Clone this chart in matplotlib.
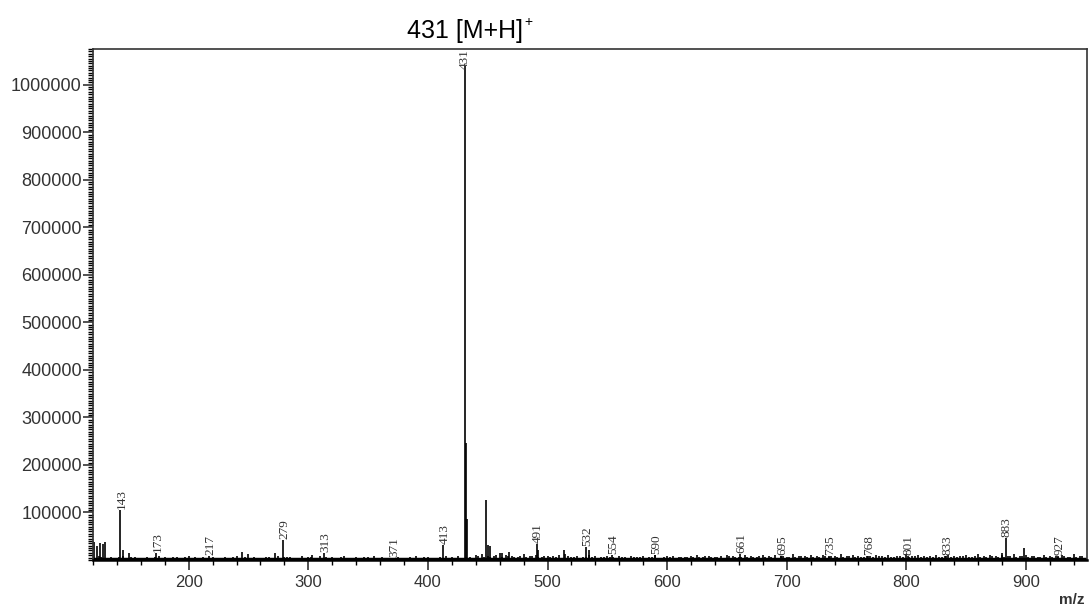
import numpy as np
import matplotlib
matplotlib.use('Agg')
import matplotlib.pyplot as plt
from matplotlib.ticker import MultipleLocator

# labelled peaks (m/z, intensity)
label_mz = [143, 173, 217, 279, 313, 371, 413, 431, 491, 532, 554, 590,
            661, 695, 735, 768, 801, 833, 883, 927]
label_int = [105000, 15000, 8000, 43000, 15000, 5000, 31000, 1040000, 34000,
             28000, 10000, 10000, 12000, 9000, 8000, 8000, 8000, 9000, 46000, 9000]

# other visible peaks without labels
extra_mz = [121, 123, 126, 128, 130, 145, 150, 245, 272, 303, 432, 433, 449,
            450, 452, 462, 468, 492, 514, 535, 880, 898]
extra_int = [38000, 30000, 35000, 33000, 38000, 20000, 15000, 17000, 15000,
             10000, 246000, 86000, 127000, 32000, 30000, 15000, 17000, 22000,
             20000, 22000, 15000, 25000]

# baseline noise, every 5 m/z from 120 (thousands)
noise_mz = list(range(120, 950, 5))
noise_k = [6, 8, 5, 7, 4, 9, 5, 6, 4, 7,
           5, 8, 6, 4, 7, 5, 9, 6, 4, 5,
           6, 4, 7, 5, 8, 5, 12, 6, 4, 7,
           5, 9, 6, 7, 4, 8, 6, 5, 9, 7,
           6, 4, 8, 5, 7, 4, 6, 9, 5, 4,
           5, 7, 4, 6, 8, 5, 6, 4, 7, 9,
           6, 8, 5, 7, 10, 12, 8, 9, 14, 11,
           9, 7, 12, 8, 10, 6, 9, 8, 11, 13,
           7, 9, 6, 10, 8, 6, 9, 7, 8, 6,
           9, 6, 8, 7, 10, 5, 8, 9, 6, 7,
           8, 10, 7, 9, 6, 8, 11, 9, 7, 10,
           9, 7, 11, 8, 10, 9, 7, 12, 8, 9,
           10, 8, 11, 7, 9, 12, 8, 10, 9, 7,
           9, 11, 8, 10, 7, 9, 12, 8, 10, 9,
           8, 10, 7, 11, 9, 8, 10, 7, 12, 9,
           10, 8, 11, 9, 12, 8, 10, 9, 7, 11,
           9, 8, 10, 7, 12, 9]
noise_int = [v * 1000 for v in noise_k]

# second noise layer, every 5 m/z from 122 (thousands)
noise2_mz = list(range(122, 950, 5))
noise2_k = [4, 6, 3, 5, 7, 3, 6, 4, 5, 3,
            6, 3, 5, 7, 4, 6, 3, 5, 6, 4,
            3, 5, 4, 6, 3, 7, 4, 5, 3, 6,
            4, 3, 6, 4, 5, 3, 7, 4, 3, 5,
            4, 6, 3, 5, 4, 6, 3, 4, 6, 3,
            4, 3, 5, 4, 3, 6, 4, 5, 3, 4,
            5, 4, 6, 5, 8, 6, 7, 10, 6, 8,
            7, 8, 6, 9, 7, 8, 6, 7, 5, 8,
            6, 5, 7, 6, 5, 7, 6, 5, 7, 5,
            6, 7, 5, 6, 5, 7, 6, 5, 7, 6,
            7, 6, 8, 6, 7, 5, 8, 6, 7, 6,
            7, 8, 6, 7, 5, 8, 6, 7, 9, 6,
            7, 6, 8, 9, 6, 7, 8, 6, 7, 8,
            6, 8, 7, 6, 8, 7, 6, 9, 7, 6,
            7, 6, 8, 7, 6, 9, 7, 8, 6, 7,
            8, 7, 6, 8, 7, 9, 6, 8, 7, 6,
            7, 6, 8, 7, 6, 8]
noise2_int = [v * 1000 for v in noise2_k]

y_ticks = [100000, 200000, 300000, 400000, 500000, 600000, 700000, 800000,
           900000, 1000000]
x_ticks = [200, 300, 400, 500, 600, 700, 800, 900]

plt.rcParams['font.family'] = ['Liberation Sans', 'DejaVu Sans']

fig = plt.figure(figsize=(10.9, 6.11), dpi=100)
ax = fig.add_axes([0.0853, 0.0835, 0.9119, 0.8363])

ax.vlines(noise_mz, 0, noise_int, color='black', lw=1.2)
ax.vlines(noise2_mz, 0, noise2_int, color='black', lw=1.2)
ax.vlines(extra_mz, 0, extra_int, color='black', lw=1.2)
ax.vlines(label_mz, 0, label_int, color='black', lw=1.2)
ax.axhline(2000, color='black', lw=2.5)

for mz, inten in zip(label_mz, label_int):
    if mz == 431:
        ax.text(mz, 1074000, str(mz), rotation=90, ha='center', va='top',
                fontsize=9.5, family='Liberation Serif', color='#333333')
    else:
        ax.text(mz + 1, inten + 2000, str(mz), rotation=90, ha='center', va='bottom',
                fontsize=9.5, family='Liberation Serif', color='#333333')

ax.set_xlim(120, 951)
ax.set_ylim(0, 1075000)
ax.set_xticks(x_ticks)
ax.set_yticks(y_ticks)
ax.set_yticklabels([str(v) for v in y_ticks], fontsize=13)
ax.xaxis.set_minor_locator(MultipleLocator(20))
ax.yaxis.set_minor_locator(MultipleLocator(5000))
ax.tick_params(axis='both', which='major', direction='out', length=7, width=1.2,
               labelsize=12, colors='#333333')
ax.tick_params(axis='y', which='major', labelsize=13, pad=1)
ax.tick_params(axis='both', which='minor', direction='out', length=3.5, width=1)
for s in ax.spines.values():
    s.set_linewidth(1.2)
    s.set_color('#333333')
ax.spines['bottom'].set_linewidth(1.8)
ax.spines['bottom'].set_color('black')

# title with a small superscript plus sign right after it
title = fig.text(0.373, 0.950, '431 [M+H]', fontsize=18, ha='left', va='center')
ax.annotate('+', xy=(1.0, 0.85), xycoords=title, xytext=(1, 0),
            textcoords='offset points', fontsize=10, ha='left', va='center',
            annotation_clip=False)
fig.text(0.983, 0.018, 'm/z', fontsize=11, fontweight='bold', ha='center',
         va='center', color='#333333')

plt.savefig('out.png', dpi=100)
